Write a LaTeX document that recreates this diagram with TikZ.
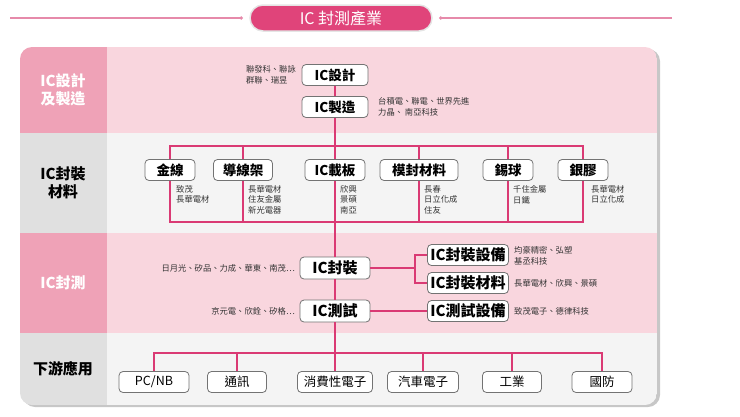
\documentclass[tikz,border=0pt]{standalone}
\usepackage{fontspec}
\setmainfont{Noto Sans CJK TC}
\usepackage{xcolor}
\usetikzlibrary{positioning}
\definecolor{titlepink}{HTML}{E0447A}
\definecolor{rulepink}{HTML}{E68AAA}
\definecolor{rosered}{HTML}{DA3A74}
\definecolor{tierpink}{HTML}{EFA2B7}
\definecolor{bandpink}{HTML}{F9D6DE}
\definecolor{tiergrey}{HTML}{E0E0E0}
\definecolor{bandgrey}{HTML}{F4F4F4}
\tikzset{
unit/.style={draw=black!55, fill=white, rounded corners=4pt, line width=.8pt, minimum height=21pt, inner sep=0pt, font=\bfseries\fontsize{13.5}{13.5}\selectfont},
bigunit/.style={unit, font=\bfseries\fontsize{15}{15}\selectfont},
app/.style={unit, font=\fontsize{12.5}{12.5}\selectfont},
firm/.style={font=\fontsize{8.3}{10.8}\selectfont, text=black!80, align=left, inner sep=0pt},
link/.style={draw=rosered, line width=1.1pt},
tier/.style={font=\bfseries\fontsize{15}{18}\selectfont, align=center},
rule/.style={draw=rulepink, line width=1.2pt}
}

\begin{document}
\begin{tikzpicture}[x=1pt,y=-1pt]
\useasboundingbox (0,0) rectangle (740,416);
% title
\node[fill=titlepink, draw=black!10, line width=1.5pt, rounded corners=13pt, minimum width=182pt, minimum height=26pt, text=white, font=\fontsize{16}{16}\selectfont] (title) at (341,18) {IC 封測產業};
\coordinate (ruleL) at (10,18);
\coordinate (ruleR) at (672,18);
\draw[rule] (ruleL) -- ([xshift=-8pt]title.west);
\draw[rule] (ruleR) -- ([xshift=8pt]title.east);
\fill[rulepink] ([xshift=-8pt]title.west) circle (1.8pt) ([xshift=8pt]title.east) circle (1.8pt);

% panel
\fill[black!22, rounded corners=12pt] (23,49) rectangle (660,407);
\begin{scope}
\clip[rounded corners=12pt] (20,47) rectangle (657,405);
\foreach \top/\bot/\side/\main in {47/133/tierpink/bandpink, 133/233/tiergrey/bandgrey, 233/333/tierpink/bandpink, 333/405/tiergrey/bandgrey}{
\fill[\main] (107,\top) rectangle (657,\bot);
\fill[\side] (20,\top) rectangle (107,\bot);
}
\end{scope}
\node[tier, text=white] (tierA) at (63,90) {IC設計\\及製造};
\node[tier] (tierB) at (63,183) {IC封裝\\材料};
\node[tier, text=white] (tierC) at (63,283) {IC封測};
\node[tier] (tierD) at (63,369) {下游應用};

% design and fab
\node[unit, minimum width=66pt] (design) at (335,75) {IC設計};
\node[unit, minimum width=66pt] (fab) at (335,107) {IC製造};
\node[firm, anchor=east] (designfirm) at (296,75) {聯發科、聯詠\\群聯、瑞昱};
\node[firm, anchor=west] (fabfirm) at (378,107) {台積電、聯電、世界先進\\力晶、 南亞科技};
\draw[link] (design.south) -- (fab.north);

% materials
\coordinate (matT) at (0,146);
\coordinate (matB) at (0,222);
\foreach \nm/\x/\w/\dx/\lbl/\firms in {gold/170/50/6/金線/{致茂\\長華電材}, frame/243/59/5/導線架/{長華電材\\住友金屬\\新光電器}, carrier/335/60/5/IC載板/{欣興\\景碩\\南亞}, mold/419/78/5/模封材料/{長春\\日立化成\\住友}, ball/508/50/5/錫球/{千住金屬\\日鐵}, glue/583/50/8/銀膠/{長華電材\\日立化成}}{
\node[unit, minimum width=\w pt] (\nm) at (\x,170) {\lbl};
\node[firm, anchor=north west] (\nm-firm) at (\x+\dx,185) {\firms};
}
\draw[link] (gold.north) -- (gold.north |- matT) -| (glue.north);
\draw[link] (gold.south) -- (gold.south |- matB) -| (glue.south);
\foreach \nm in {frame,mold,ball}{
\draw[link] (\nm.north) -- (\nm.north |- matT);
\draw[link] (\nm.south) -- (\nm.south |- matB);
}
\draw[link] (fab.south) -- (carrier.north);

% packaging and testing
\node[bigunit, minimum width=70pt, minimum height=22pt] (pack) at (335,268) {IC封裝};
\node[bigunit, minimum width=70pt, minimum height=22pt] (test) at (335,311) {IC測試};
\node[firm, anchor=east] (packfirm) at (295,268) {日月光、矽品、力成、華東、南茂…};
\node[firm, anchor=east] (testfirm) at (295,311) {京元電、欣銓、矽格…};
\node[bigunit, minimum width=81pt] (packtool) at (468,255) {IC封裝設備};
\node[bigunit, minimum width=81pt] (packmat) at (468,283) {IC封裝材料};
\node[bigunit, minimum width=81pt] (testtool) at (468,311) {IC測試設備};
\node[firm, anchor=west] (packtoolfirm) at (514,256) {均豪精密、弘塑\\基丞科技};
\node[firm, anchor=west] (packmatfirm) at (514,283) {長華電材、欣興、景碩};
\node[firm, anchor=west] (testtoolfirm) at (514,311) {致茂電子、德律科技};
\coordinate (fork) at (415,268);
\draw[link] (carrier.south) -- (pack.north);
\draw[link] (pack.south) -- (test.north);
\draw[link] (pack.east) -- (fork) |- (packtool.west);
\draw[link] (fork) |- (packmat.west);
\draw[link] (test.east) -- (testtool.west);

% applications
\coordinate (appbar) at (0,353);
\foreach \nm/\x/\w/\lbl in {pc/154/70/{PC/NB}, comm/237/59/通訊, consumer/335/75/消費性電子, auto/423/71/汽車電子, industry/512/59/工業, defense/602/60/國防}{
\node[app, minimum width=\w pt] (\nm) at (\x,382) {\lbl};
}
\draw[link] (test.south) -- (test.south |- appbar);
\draw[link] (pc.north) -- (pc.north |- appbar) -| (defense.north);
\foreach \nm in {comm,consumer,auto,industry}
\draw[link] (\nm.north) -- (\nm.north |- appbar);
\end{tikzpicture}
\end{document}
